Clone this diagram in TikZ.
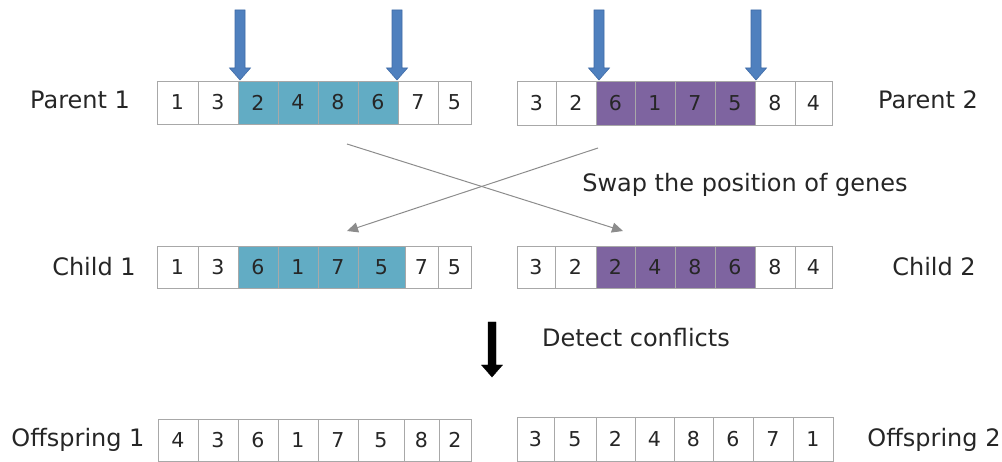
\documentclass[tikz,border=0pt]{standalone}
\usepackage{fontspec}
\setmainfont{DejaVu Sans}
\usetikzlibrary{arrows.meta}

\definecolor{cellgray}{HTML}{A8A8A8}
\definecolor{teal}{HTML}{62ACC4}
\definecolor{purple}{HTML}{7E64A0}
\definecolor{markblue}{HTML}{4F80BE}
\definecolor{markedge}{HTML}{3E6AA6}
\definecolor{crossgray}{HTML}{8C8C8C}
\definecolor{ink}{HTML}{262626}

\tikzset{
  cell/.style={draw=cellgray, line width=0.9pt, inner sep=0pt,
    font=\fontsize{20.5}{20.5}\selectfont, text=ink},
  rowlabel/.style={font=\fontsize{24}{24}\selectfont, text=ink, inner sep=0pt},
  marker/.style={fill=markblue, draw=markedge, line width=0.6pt},
  swap/.style={draw=crossgray, line width=1pt,
    -{Triangle[length=11pt,width=10pt]}},
}

% one chromosome: name, top y, bottom y, list of x0/x1/gene/fill
\newcommand{\generow}[4]{%
  \foreach \xa/\xb/\g/\f [count=\i] in {#4} {
    \node[cell, fill=\f, minimum width={(\xb-\xa)*1pt},
      minimum height={(#3-#2)*1pt}] (#1-\i) at ({(\xa+\xb)/2},{(#2+#3)/2}) {\g};
  }%
}

% downward block arrow: tip x, tip y, top y, shaft half width, head half width, head length
\newcommand{\blockarrow}[7]{%
  \filldraw[#7] (#1-#4,#3) -- (#1+#4,#3) -- (#1+#4,#2-#6) -- (#1+#5,#2-#6)
    -- (#1,#2) -- (#1-#5,#2-#6) -- (#1-#4,#2-#6) -- cycle;
}

\begin{document}
\begin{tikzpicture}[x=1pt,y=-1pt]
\useasboundingbox (0,0) rectangle (1002,462);

% cut points on the parents
\blockarrow{240}{80}{10}{5}{10.5}{12}{marker}
\blockarrow{397}{80}{10}{5}{10.5}{12}{marker}
\blockarrow{599}{80}{10}{5}{10.5}{12}{marker}
\blockarrow{756}{80}{10}{5}{10.5}{12}{marker}

% parents
\generow{p1}{81}{124}{157/198/1/white, 198/238/3/white, 238/278/2/teal, 278/318/4/teal,
  318/358/8/teal, 358/398/6/teal, 398/438/7/white, 438/471/5/white}
\generow{p2}{81}{125}{517/556/3/white, 556/596/2/white, 596/635/6/purple, 635/675/1/purple,
  675/715/7/purple, 715/755/5/purple, 755/795/8/white, 795/832/4/white}

% children after swapping the middle segments
\generow{c1}{246}{288}{157/198/1/white, 198/238/3/white, 238/278/6/teal, 278/318/1/teal,
  318/358/7/teal, 358/405/5/teal, 405/438/7/white, 438/471/5/white}
\generow{c2}{246}{288}{517/555/3/white, 555/596/2/white, 596/635/2/purple, 635/675/4/purple,
  675/715/8/purple, 715/755/6/purple, 755/795/8/white, 795/832/4/white}

% offspring after repairing duplicates
\generow{o1}{419}{461}{158/198/4/white, 198/238/3/white, 238/278/6/white, 278/318/1/white,
  318/358/7/white, 358/404/5/white, 404/439/8/white, 439/471/2/white}
\generow{o2}{417}{461}{517/554/3/white, 554/596/5/white, 596/635/2/white, 635/674/4/white,
  674/713/8/white, 713/753/6/white, 753/793/7/white, 793/833/1/white}

% labels
\node[rowlabel] (lp1) at (80,100) {Parent 1};
\node[rowlabel] (lp2) at (928,100) {Parent 2};
\node[rowlabel] (lc1) at (94,267) {Child 1};
\node[rowlabel] (lc2) at (934,267) {Child 2};
\node[rowlabel] (lo1) at (78,440) {Offspring 1};
\node[rowlabel] (lo2) at (934,440) {Offspring 2};
\node[rowlabel] (lswap) at (745,185) {Swap the position of genes};
\node[rowlabel] (ldet) at (636,338) {Detect conflicts};

% crossing swap arrows
\coordinate (s1) at (347,144);
\coordinate (e1) at (623,231);
\coordinate (s2) at (598,148);
\coordinate (e2) at (347,231);
\draw[swap] (s1) -- (e1);
\draw[swap] (s2) -- (e2);

% conflict detection step
\blockarrow{492}{377}{322}{4}{10.5}{12}{black}
\end{tikzpicture}
\end{document}
